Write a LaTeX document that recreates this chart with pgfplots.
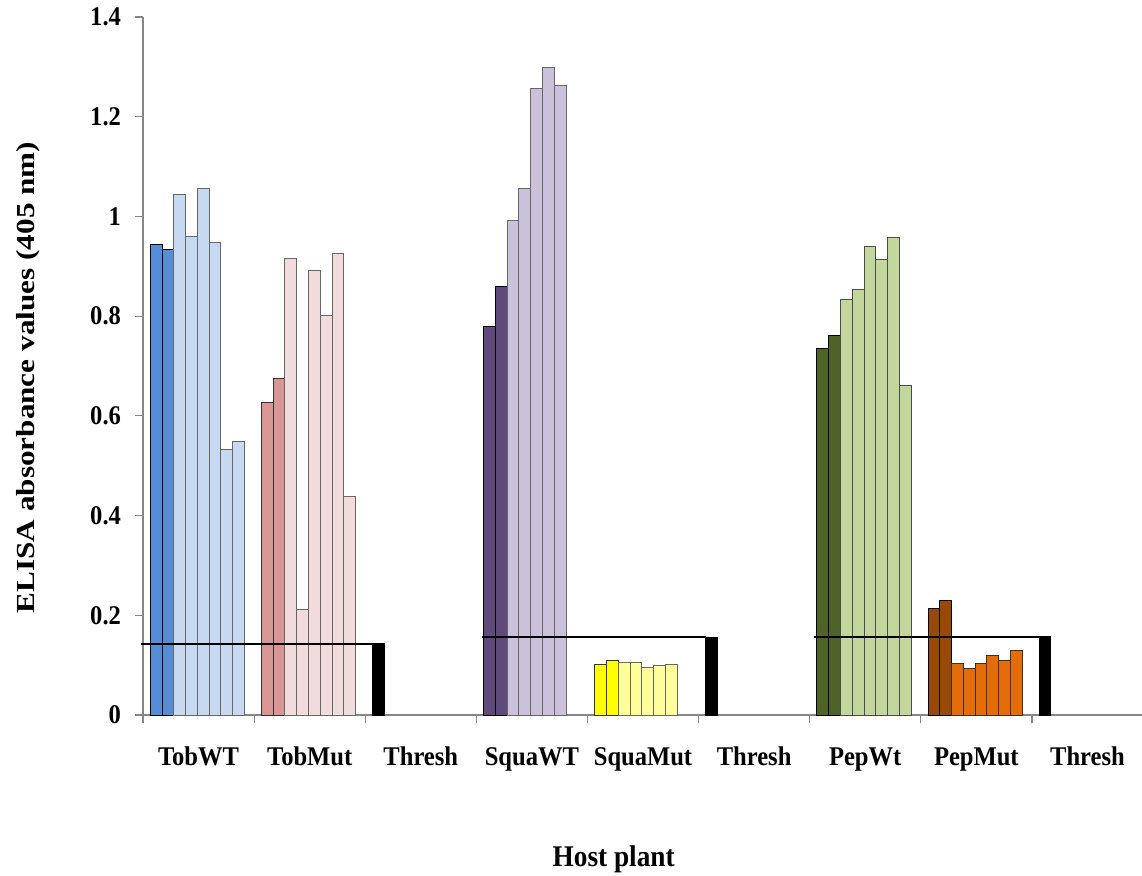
\documentclass[border=0pt]{standalone}
\usepackage{pgfplots}
\pgfplotsset{compat=1.18}
\usepackage{fontspec}
\setmainfont{Liberation Serif}[FakeStretch=0.91]
\newfontfamily\ylabfont{Liberation Serif}[FakeStretch=1.2]
\definecolor{axgray}{HTML}{868686}
\definecolor{tobD}{HTML}{558ED5}
\definecolor{tobL}{HTML}{C6D9F1}
\definecolor{tmD}{HTML}{D99694}
\definecolor{tmL}{HTML}{F2DCDB}
\definecolor{sqD}{HTML}{604A7B}
\definecolor{sqL}{HTML}{CCC1DA}
\definecolor{smD}{HTML}{FFFF00}
\definecolor{smL}{HTML}{FFFF99}
\definecolor{pwD}{HTML}{4F6228}
\definecolor{pwL}{HTML}{C3D69B}
\definecolor{pmD}{HTML}{984807}
\definecolor{pmL}{HTML}{E46C0A}
\begin{document}
\begin{tikzpicture}
\begin{axis}[
  scale only axis, width=500pt, height=349pt,
  xmin=-0.5, xmax=8.5, ymin=0, ymax=1.4,
  axis lines=left,
  axis line style={-, axgray, line width=0.6pt},
  every tick/.style={axgray, line width=0.6pt},
  tick align=outside,
  major tick length=4pt,
  ytick={0,0.2,0.4,0.6,0.8,1,1.2,1.4},
  yticklabels={0,0.2,0.4,0.6,0.8,1,1.2,1.4},
  xtick={-0.5,0.5,1.5,2.5,3.5,4.5,5.5,6.5,7.5,8.5},
  xticklabels={TobWT,TobMut,Thresh,SquaWT,SquaMut,Thresh,PepWt,PepMut,Thresh,{}},
  /pgf/number format/assume math mode=true,
  ticklabel style={font=\bfseries\fontsize{13.5}{16}\selectfont},
  xticklabel style={anchor=base, xshift=27.78pt, yshift=-21pt},
  yticklabel style={anchor=east, xshift=-3.5pt},
  xlabel={Host plant},
  xlabel style={font=\bfseries\fontsize{15}{18}\selectfont, at={(axis description cs:0.4707,-0.2173)}, anchor=base},
  ylabel={ELISA absorbance values (405 nm)},
  ylabel style={font=\ylabfont\bfseries\fontsize{13}{15}\selectfont, at={(axis description cs:-0.109,0.4835)}, anchor=base},
  clip=false,
]
% TobWT
\addplot[ybar, bar width=0.106, bar shift=0pt, fill=tobD, draw=black, line width=0.5pt] coordinates {(-0.382,0.943) (-0.276,0.933)};
\addplot[ybar, bar width=0.106, bar shift=0pt, fill=tobL, draw=black!60, line width=0.5pt] coordinates {(-0.170,1.044) (-0.064,0.960) (0.042,1.055) (0.148,0.947) (0.254,0.532) (0.360,0.548)};
% TobMut
\addplot[ybar, bar width=0.106, bar shift=0pt, fill=tmD, draw=black!80, line width=0.5pt] coordinates {(0.618,0.626) (0.724,0.674)};
\addplot[ybar, bar width=0.106, bar shift=0pt, fill=tmL, draw=black!60, line width=0.5pt] coordinates {(0.830,0.916) (0.936,0.212) (1.042,0.892) (1.148,0.801) (1.254,0.925) (1.360,0.438)};
% SquaWT
\addplot[ybar, bar width=0.106, bar shift=0pt, fill=sqD, draw=black, line width=0.5pt] coordinates {(2.618,0.780) (2.724,0.859)};
\addplot[ybar, bar width=0.106, bar shift=0pt, fill=sqL, draw=black!60, line width=0.5pt] coordinates {(2.830,0.992) (2.936,1.057) (3.042,1.256) (3.148,1.298) (3.254,1.262)};
% SquaMut
\addplot[ybar, bar width=0.106, bar shift=0pt, fill=smD, draw=black!80, line width=0.5pt] coordinates {(3.618,0.101) (3.724,0.110)};
\addplot[ybar, bar width=0.106, bar shift=0pt, fill=smL, draw=black!60, line width=0.5pt] coordinates {(3.830,0.105) (3.936,0.105) (4.042,0.095) (4.148,0.099) (4.254,0.102)};
% PepWt
\addplot[ybar, bar width=0.106, bar shift=0pt, fill=pwD, draw=black, line width=0.5pt] coordinates {(5.618,0.736) (5.724,0.761)};
\addplot[ybar, bar width=0.106, bar shift=0pt, fill=pwL, draw=black!70, line width=0.5pt] coordinates {(5.830,0.834) (5.936,0.854) (6.042,0.939) (6.148,0.914) (6.254,0.957) (6.360,0.661)};
% PepMut
\addplot[ybar, bar width=0.106, bar shift=0pt, fill=pmD, draw=black, line width=0.5pt] coordinates {(6.618,0.214) (6.724,0.230)};
\addplot[ybar, bar width=0.106, bar shift=0pt, fill=pmL, draw=black!80, line width=0.5pt] coordinates {(6.830,0.104) (6.936,0.094) (7.042,0.103) (7.148,0.120) (7.254,0.110) (7.360,0.130)};
% Thresh bars
\addplot[ybar, bar width=0.106, bar shift=0pt, fill=black, draw=black, line width=0.5pt] coordinates {(1.618,0.143) (4.618,0.156) (7.618,0.157)};
% threshold lines
\addplot[black, line width=1pt] coordinates {(-0.52,0.143) (1.565,0.143)};
\addplot[black, line width=1pt] coordinates {(2.55,0.156) (4.565,0.156)};
\addplot[black, line width=1pt] coordinates {(5.543,0.157) (7.565,0.157)};
\coordinate (bl) at (rel axis cs:0,0);
\coordinate (tr) at (rel axis cs:1,1);
\end{axis}
\pgfresetboundingbox
\path[use as bounding box] ([xshift=-71.5pt, yshift=-80pt]bl) rectangle ([xshift=-0.5pt, yshift=8.5pt]tr);
\end{tikzpicture}
\end{document}
